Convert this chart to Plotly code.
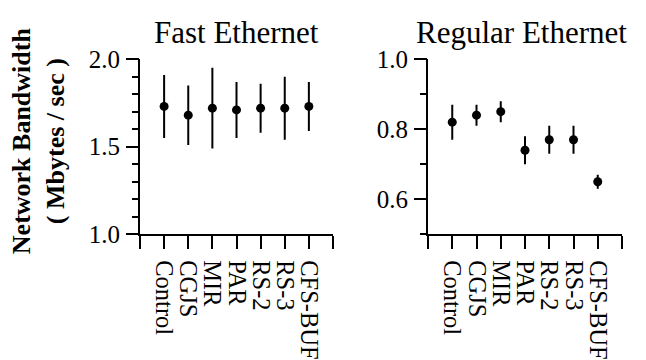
import plotly.graph_objects as go

categories = ["Control", "CGJS", "MIR", "PAR", "RS-2", "RS-3", "CFS-BUF"]

fast_mean = [1.73, 1.68, 1.72, 1.71, 1.72, 1.72, 1.73]
fast_high = [1.91, 1.85, 1.95, 1.87, 1.86, 1.90, 1.87]
fast_low = [1.55, 1.51, 1.49, 1.55, 1.58, 1.54, 1.59]

reg_mean = [0.82, 0.84, 0.85, 0.74, 0.77, 0.77, 0.65]
reg_high = [0.87, 0.87, 0.88, 0.78, 0.81, 0.81, 0.67]
reg_low = [0.77, 0.81, 0.82, 0.70, 0.73, 0.73, 0.63]

fast_ticks = [1.0, 1.1, 1.2, 1.3, 1.4, 1.5, 1.6, 1.7, 1.8, 1.9, 2.0]
fast_labeled = [1.0, 1.5, 2.0]
reg_ticks = [0.5, 0.6, 0.7, 0.8, 0.9, 1.0]
reg_labeled = [0.6, 0.8, 1.0]

positions = list(range(1, len(categories) + 1))
tickvals = [0] + positions + [len(categories) + 1]
ticktext = [""] + categories + [""]

FONT = "Liberation Serif, Times New Roman, serif"
W, H = 646, 360

def err(mean, hi, lo):
    return dict(type="data", symmetric=False,
                array=[h - m for h, m in zip(hi, mean)],
                arrayminus=[m - l for m, l in zip(mean, lo)],
                color="black", thickness=2, width=0)

def labels(ticks, labeled):
    return [f"{v:.1f}" if any(abs(v - l) < 1e-9 for l in labeled) else "" for v in ticks]

fig = go.Figure()
fig.add_trace(go.Scatter(x=positions, y=fast_mean, mode="markers",
                         marker=dict(color="black", size=9),
                         error_y=err(fast_mean, fast_high, fast_low),
                         xaxis="x", yaxis="y", showlegend=False))
fig.add_trace(go.Scatter(x=positions, y=reg_mean, mode="markers",
                         marker=dict(color="black", size=9),
                         error_y=err(reg_mean, reg_high, reg_low),
                         xaxis="x2", yaxis="y2", showlegend=False))
# carriers for the long major-tick overlay axes
fig.add_trace(go.Scatter(x=[None], y=[None], xaxis="x", yaxis="y3",
                         showlegend=False, hoverinfo="skip"))
fig.add_trace(go.Scatter(x=[None], y=[None], xaxis="x2", yaxis="y4",
                         showlegend=False, hoverinfo="skip"))

ydom = [1 - 240 / H, 1 - 50 / H]
xdom1 = [140 / W, 333 / W]
xdom2 = [428 / W, 622 / W]

xcommon = dict(range=[0, len(categories) + 1], tickmode="array", tickvals=tickvals,
               ticktext=ticktext, tickangle=90, ticks="outside", ticklen=13,
               tickwidth=2, tickcolor="black", showline=True, linewidth=2,
               linecolor="black", showgrid=False, zeroline=False,
               ticklabelstandoff=6,
               tickfont=dict(family=FONT, size=24.5, color="black"))
ycommon = dict(ticks="outside", ticklen=6, tickwidth=2, tickcolor="black",
               showline=True, linewidth=2, linecolor="black", showgrid=False,
               zeroline=False, tickfont=dict(family=FONT, size=25, color="black"),
               ticklabelstandoff=7, tickmode="array")
majorcommon = dict(ticks="outside", ticklen=13, tickwidth=2, tickcolor="black",
                   showline=False, showgrid=False, zeroline=False,
                   showticklabels=False, tickmode="array")

fig.update_layout(
    width=W, height=H, margin=dict(l=0, r=0, t=0, b=0),
    paper_bgcolor="white", plot_bgcolor="white",
    xaxis=dict(domain=xdom1, anchor="y", **xcommon),
    xaxis2=dict(domain=xdom2, anchor="y2", **xcommon),
    yaxis=dict(domain=ydom, anchor="x", range=[1.0, 2.0], tickvals=fast_ticks,
               ticktext=labels(fast_ticks, fast_labeled), **ycommon),
    yaxis2=dict(domain=ydom, anchor="x2", range=[0.5, 1.0], tickvals=reg_ticks,
                ticktext=labels(reg_ticks, reg_labeled), **ycommon),
    yaxis3=dict(overlaying="y", anchor="x", side="left", range=[1.0, 2.0],
                tickvals=fast_labeled, **majorcommon),
    yaxis4=dict(overlaying="y2", anchor="x2", side="left", range=[0.5, 1.0],
                tickvals=reg_labeled, **majorcommon),
    annotations=[
        dict(text="Fast Ethernet", x=sum(xdom1) / 2, y=1 - 21 / H, xref="paper",
             yref="paper", xanchor="center", yanchor="middle", showarrow=False,
             font=dict(family=FONT, size=31, color="black")),
        dict(text="Regular Ethernet", x=sum(xdom2) / 2 - 4 / W, y=1 - 21 / H,
             xref="paper", yref="paper", xanchor="center", yanchor="middle",
             showarrow=False, font=dict(family=FONT, size=31, color="black")),
        dict(text="<b>Network Bandwidth</b><br><b>( Mbytes / sec )</b>",
             x=38 / W, y=1 - 139 / H, xref="paper", yref="paper",
             xanchor="center", yanchor="middle", textangle=-90, showarrow=False,
             font=dict(family=FONT, size=26, color="black")),
    ],
)

fig.write_html("out.html")
